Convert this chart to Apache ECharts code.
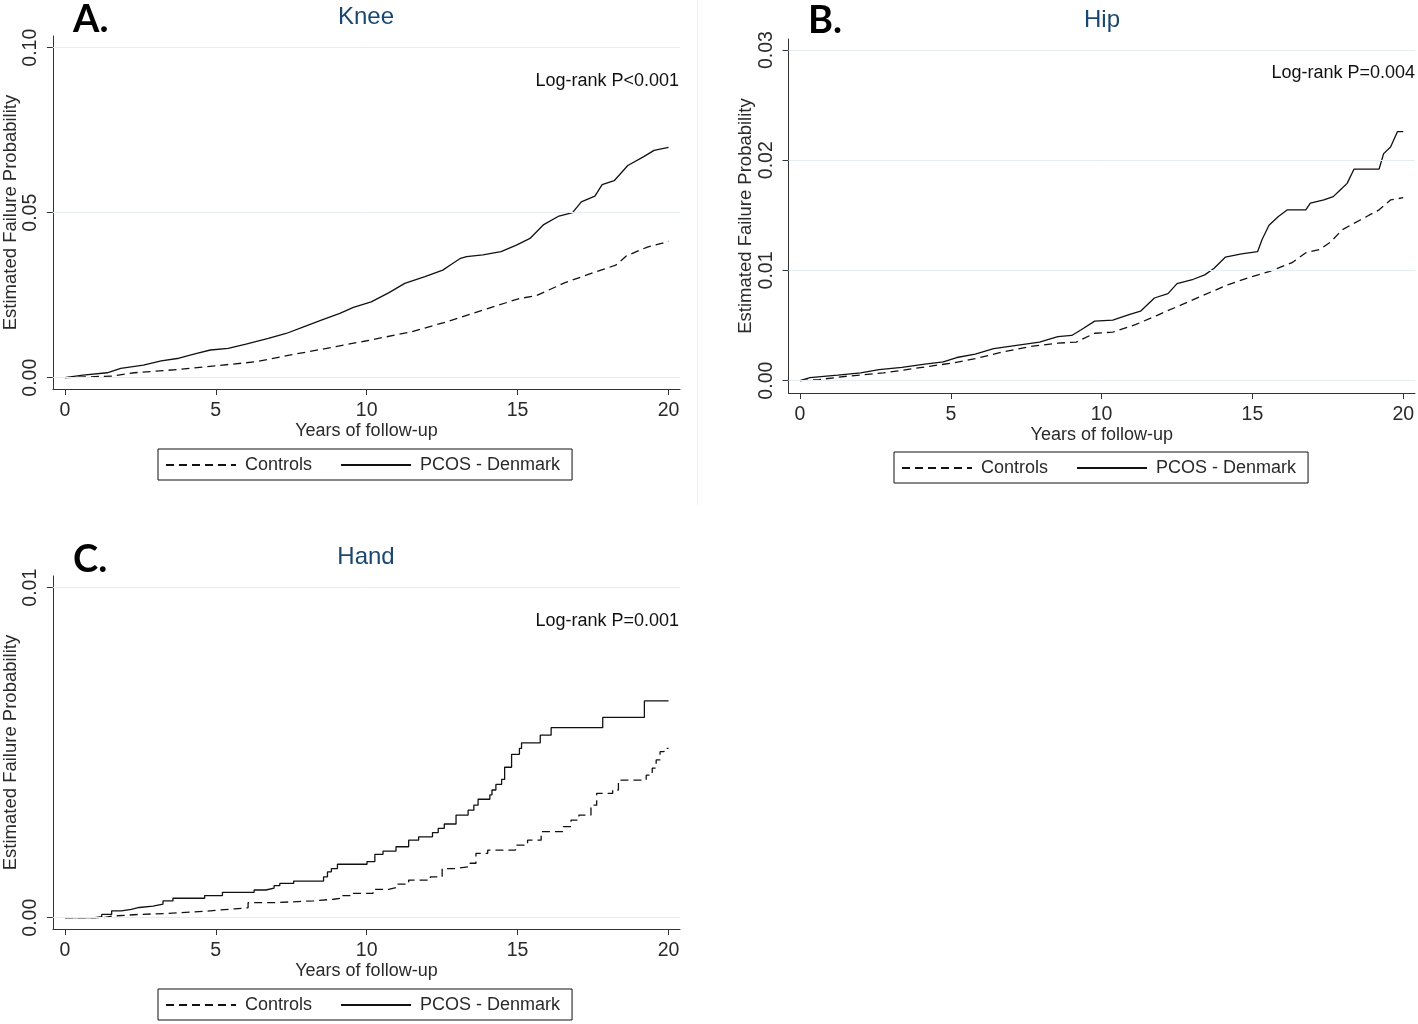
<!DOCTYPE html>
<html>
<head>
<meta charset="utf-8">
<script src="https://cdn.jsdelivr.net/npm/echarts@6/dist/echarts.min.js"></script>
<style>
  html, body { margin: 0; padding: 0; background: #fff; }
  #main { width: 1418px; height: 1024px; }
</style>
</head>
<body>
<div id="main"></div>
<script>
// tick values
const yearTicks = [0, 5, 10, 15, 20];
const kneeTicks = [0, 0.05, 0.1];
const hipTicks = [0, 0.01, 0.02, 0.03];
const handTicks = [0, 0.01];
const legendNames = ["Controls", "PCOS - Denmark"];

// [years, estimated failure probability]
const kneeControls = [[0,0],[1.56,0.0005],[2.3,0.0015],[3.78,0.0025],[4.97,0.0036],[6.3,0.0048],[7.48,0.0069],[8.67,0.0089],[10.0,0.0112],[11.48,0.0139],[12.67,0.017],[13.85,0.0205],[15.06,0.024],[15.6,0.0248],[16.57,0.0288],[17.5,0.0318],[18.25,0.0341],[18.6,0.0369],[19.3,0.0396],[20.0,0.0413]];
const kneePcos = [[0,0],[0.6,0.0008],[1.4,0.0015],[1.85,0.0028],[2.6,0.0038],[3.19,0.0051],[3.78,0.0059],[4.37,0.0074],[4.82,0.0084],[5.41,0.0089],[6.0,0.0102],[6.74,0.0119],[7.33,0.0134],[7.93,0.0155],[8.52,0.0175],[9.11,0.0195],[9.56,0.0213],[10.15,0.023],[10.74,0.0258],[11.26,0.0286],[11.93,0.0306],[12.52,0.0326],[12.76,0.0341],[13.11,0.0362],[13.31,0.0367],[13.85,0.0372],[14.45,0.0382],[14.96,0.0402],[15.41,0.0422],[15.85,0.0463],[16.37,0.049],[16.82,0.05],[17.11,0.0533],[17.56,0.055],[17.8,0.0585],[18.2,0.0597],[18.65,0.0643],[19.18,0.067],[19.52,0.0689],[20.0,0.0698]];

const hipControls = [[0,0],[0.64,0.0001],[1.55,0.0004],[2.77,0.0007],[3.53,0.001],[4.29,0.0013],[5.05,0.0016],[5.81,0.002],[6.72,0.0026],[7.64,0.0031],[8.55,0.0034],[9.16,0.0035],[9.77,0.0043],[10.37,0.0044],[11.14,0.0051],[11.9,0.006],[12.66,0.0069],[13.42,0.0078],[14.18,0.0087],[14.94,0.0094],[15.55,0.0099],[16.31,0.0107],[16.77,0.0116],[17.23,0.0119],[17.6,0.0126],[17.98,0.0137],[18.59,0.0146],[19.2,0.0155],[19.58,0.0164],[20.0,0.0166]];
const hipPcos = [[0,0],[0.33,0.00027],[1.25,0.0005],[2.01,0.0007],[2.62,0.001],[3.38,0.0012],[4.14,0.0015],[4.75,0.0017],[5.2,0.0021],[5.81,0.0024],[6.42,0.0029],[7.18,0.0032],[7.94,0.0035],[8.55,0.004],[9.01,0.0041],[9.31,0.0046],[9.77,0.0054],[10.37,0.0055],[10.91,0.006],[11.29,0.0063],[11.75,0.0075],[12.2,0.0079],[12.5,0.0088],[13.04,0.0092],[13.42,0.0096],[13.73,0.0102],[14.1,0.0112],[14.64,0.0115],[15.17,0.0117],[15.32,0.0128],[15.55,0.0141],[15.86,0.0149],[16.16,0.0155],[16.77,0.0155],[16.92,0.0161],[17.37,0.0164],[17.68,0.0167],[17.91,0.0173],[18.14,0.0179],[18.37,0.0192],[19.2,0.0192],[19.35,0.0206],[19.58,0.0212],[19.81,0.0226],[20.0,0.0226]];

// hand: step points (time of jump, value after jump)
const handControls = [[0,0],[1.28,0.00005],[1.55,0.0001],[2.47,0.00013],[3.38,0.00017],[4.17,0.0002],[4.7,0.00023],[5.09,0.00027],[5.62,0.0003],[6.07,0.00046],[6.99,0.00051],[8.24,0.00056],[8.9,0.00059],[9.16,0.00067],[9.55,0.00074],[10.21,0.00086],[10.73,0.00092],[11.0,0.00102],[11.39,0.00114],[12.11,0.00124],[12.5,0.00149],[12.96,0.00155],[13.42,0.00165],[13.62,0.00195],[14.01,0.00205],[14.93,0.0022],[15.33,0.00235],[15.78,0.00261],[16.51,0.00276],[16.77,0.00296],[17.03,0.00311],[17.43,0.00341],[17.62,0.00377],[18.15,0.00387],[18.34,0.00417],[19.26,0.00432],[19.46,0.00453],[19.59,0.00478],[19.72,0.00503],[19.85,0.00513],[20.0,0.00513]];
const handPcos = [[0,0],[1.0,0.00003],[1.22,0.0001],[1.55,0.00021],[1.87,0.00025],[2.2,0.00031],[2.46,0.00035],[2.92,0.00041],[3.25,0.00051],[3.58,0.00059],[4.63,0.00067],[5.22,0.00077],[6.27,0.00084],[6.66,0.0009],[6.93,0.00097],[7.12,0.00104],[7.58,0.00111],[8.57,0.00124],[8.7,0.00139],[8.83,0.00149],[9.03,0.00162],[10.01,0.0017],[10.27,0.00192],[10.54,0.00202],[10.97,0.00215],[11.39,0.00235],[11.72,0.00245],[12.18,0.00258],[12.37,0.00271],[12.57,0.00284],[12.96,0.00311],[13.36,0.00326],[13.55,0.00341],[13.69,0.00359],[14.08,0.00372],[14.15,0.00387],[14.28,0.00404],[14.47,0.00419],[14.57,0.00456],[14.8,0.00495],[15.06,0.00513],[15.13,0.0053],[15.75,0.00553],[16.11,0.00576],[17.82,0.00607],[19.2,0.00657],[20.0,0.00657]];

const FONT = "'Liberation Sans', Arial, sans-serif";
const TEXT = "#2a2a2a";
const LETTER = "bold 38px Lato, 'Open Sans', sans-serif";

const panels = [
  { grid: { left: 52.8, top: 36, width: 627.2, height: 353 }, x: [-0.397, 20.38], y: [-0.00342, 0.10355],
    ticks: kneeTicks, controls: kneeControls, pcos: kneePcos, step: false, legend: { left: 158, top: 449 } },
  { grid: { left: 788.5, top: 39, width: 626.5, height: 354 }, x: [-0.381, 20.39], y: [-0.00112, 0.0310],
    ticks: hipTicks, controls: hipControls, pcos: hipPcos, step: false, legend: { left: 894, top: 452 } },
  { grid: { left: 52.8, top: 576, width: 627.2, height: 353 }, x: [-0.397, 20.38], y: [-0.000342, 0.010355],
    ticks: handTicks, controls: handControls, pcos: handPcos, step: "end", legend: { left: 158, top: 989 } }
];

const myChart = echarts.init(document.getElementById("main"));

const option = {
  animation: false,
  backgroundColor: "#fff",
  grid: panels.map(p => p.grid),
  xAxis: panels.map((p, i) => ({
    type: "value", gridIndex: i, min: p.x[0], max: p.x[1],
    name: "Years of follow-up", nameLocation: "middle", nameGap: 31,
    nameTextStyle: { fontFamily: FONT, fontSize: 18, color: TEXT },
    axisLine: { onZero: false, lineStyle: { color: "#333", width: 1 } },
    axisTick: { customValues: yearTicks, length: 6, lineStyle: { color: "#333" } },
    axisLabel: { customValues: yearTicks, margin: 12, fontFamily: FONT, fontSize: 19.5, color: TEXT },
    splitLine: { show: false }
  })),
  yAxis: panels.map((p, i) => ({
    type: "value", gridIndex: i, min: p.y[0], max: p.y[1],
    name: "Estimated Failure Probability", nameLocation: "middle", nameGap: 31, nameRotate: 90,
    nameTextStyle: { fontFamily: FONT, fontSize: 18.5, color: TEXT },
    axisLine: { onZero: false, lineStyle: { color: "#333", width: 1 } },
    axisTick: { customValues: p.ticks, length: 6, lineStyle: { color: "#333" } },
    axisLabel: { customValues: p.ticks, rotate: 90, margin: 12, fontFamily: FONT, fontSize: 19.5, color: TEXT,
                 formatter: v => v.toFixed(2) },
    splitLine: { show: false }
  })),
  legend: panels.map(p => ({
    data: legendNames, left: p.legend.left, top: p.legend.top,
    orient: "horizontal", itemWidth: 70, itemHeight: 14, itemGap: 28,
    borderColor: "#111", borderWidth: 1, padding: [7, 12, 6, 7], borderRadius: 0,
    itemStyle: { color: "rgba(0,0,0,0)", borderColor: "rgba(0,0,0,0)", borderWidth: 0, opacity: 0 },
    textStyle: { fontFamily: FONT, fontSize: 18, color: TEXT, padding: [0, 0, 0, 4] }
  })),
  series: panels.flatMap((p, i) => [
    {
      name: "Controls", type: "line", xAxisIndex: i, yAxisIndex: i, data: p.controls,
      step: p.step, symbol: "none", silent: true,
      lineStyle: { color: "#111", width: 1.3, type: [8, 5] },
      itemStyle: { color: "#111" },
      markLine: {
        silent: true, symbol: ["none", "none"], label: { show: false },
        lineStyle: { color: "#e4edf0", type: "solid", width: 1 },
        data: p.ticks.map(v => ({ yAxis: v }))
      }
    },
    {
      name: "PCOS - Denmark", type: "line", xAxisIndex: i, yAxisIndex: i, data: p.pcos,
      step: p.step, symbol: "none", silent: true,
      lineStyle: { color: "#111", width: 1.3, type: "solid" },
      itemStyle: { color: "#111" }
    }
  ]),
  graphic: [
    { type: "line", shape: { x1: 697.5, y1: 0, x2: 697.5, y2: 505 }, style: { stroke: "#f1f1f1", lineWidth: 1 } },
    { type: "text", x: 73, y: 20, style: { text: "A.", font: LETTER, fill: "#000", textVerticalAlign: "middle", verticalAlign: "middle" } },
    { type: "text", x: 808, y: 21, style: { text: "B.", font: LETTER, fill: "#000", textVerticalAlign: "middle", verticalAlign: "middle" } },
    { type: "text", x: 73, y: 560, style: { text: "C.", font: LETTER, fill: "#000", textVerticalAlign: "middle", verticalAlign: "middle" } },
    { type: "text", x: 366, y: 17, style: { text: "Knee", font: "24px " + FONT, fill: "#1a476f", textAlign: "center", align: "center", textVerticalAlign: "middle", verticalAlign: "middle" } },
    { type: "text", x: 1102, y: 20, style: { text: "Hip", font: "24px " + FONT, fill: "#1a476f", textAlign: "center", align: "center", textVerticalAlign: "middle", verticalAlign: "middle" } },
    { type: "text", x: 366, y: 557, style: { text: "Hand", font: "24px " + FONT, fill: "#1a476f", textAlign: "center", align: "center", textVerticalAlign: "middle", verticalAlign: "middle" } },
    { type: "text", x: 679, y: 81, style: { text: "Log-rank P<0.001", font: "18px " + FONT, fill: "#111", textAlign: "right", align: "right", textVerticalAlign: "middle", verticalAlign: "middle" } },
    { type: "text", x: 1415, y: 73, style: { text: "Log-rank P=0.004", font: "18px " + FONT, fill: "#111", textAlign: "right", align: "right", textVerticalAlign: "middle", verticalAlign: "middle" } },
    { type: "text", x: 679, y: 621, style: { text: "Log-rank P=0.001", font: "18px " + FONT, fill: "#111", textAlign: "right", align: "right", textVerticalAlign: "middle", verticalAlign: "middle" } }
  ]
};

myChart.setOption(option);
</script>
</body>
</html>
